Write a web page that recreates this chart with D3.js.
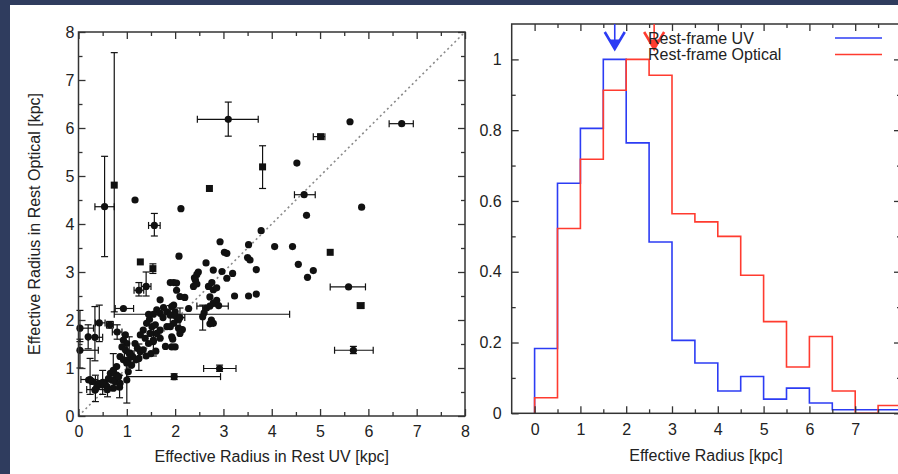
<!DOCTYPE html>
<html>
<head>
<meta charset="utf-8">
<script src="https://cdn.jsdelivr.net/npm/d3@7"></script>
<style>
  html, body { margin: 0; padding: 0; background: #2f3c5e; }
  svg { display: block; }
  text { font-family: "Liberation Sans", Arial, sans-serif; fill: #222; }
</style>
</head>
<body>
<script>
// ---- left panel: plain points (x = rest UV, y = rest optical), kpc
var dotX = [5.62, 4.52, 4.72, 5.86, 1.17, 2.12, 3.78, 2.93, 3.52, 4.06, 4.43, 3.07, 2.08, 3.50, 3.55, 2.64, 4.55, 3.68, 4.86, 4.74, 3.23, 3.52, 3.68,
  3.02, 2.79, 2.97, 3.07, 3.19, 2.40, 2.45, 2.48, 2.42, 2.38, 2.45, 1.90, 1.97, 2.03, 2.03, 2.10, 2.20, 2.28, 2.69, 2.76, 2.79, 2.86, 2.72, 2.79, 2.86,
  1.69, 1.76, 1.62, 1.69, 1.83, 1.97, 2.00, 2.03, 2.07, 1.97, 1.47, 1.41, 1.52, 1.59, 1.34, 1.48, 1.62, 1.69, 1.28, 1.38, 1.45, 1.55, 1.69, 1.83,
  1.93, 2.00, 1.90, 1.17, 1.22, 1.28, 1.34, 1.07, 1.12, 1.19, 1.03, 1.10, 0.97, 0.93, 1.00, 0.90, 0.97, 0.86, 0.93, 1.00, 1.03,
  0.66, 0.72, 0.79, 0.62, 0.69, 0.76, 0.83, 0.86, 0.55, 0.48, 0.41, 0.38, 0.59, 0.72, 0.34, 0.21, 0.28, 0.79,
  2.72, 2.75, 2.60, 2.65, 2.90, 1.55, 1.75, 2.15, 1.95, 1.80, 1.50, 1.40, 1.60, 1.97, 2.07, 2.10, 1.93, 2.79, 1.93];
var dotY = [6.13, 5.27, 4.18, 4.35, 4.50, 4.32, 3.86, 3.63, 3.57, 3.53, 3.53, 3.39, 3.33, 3.30, 3.25, 3.19, 3.16, 3.05, 3.03, 2.89, 2.50, 2.50, 2.54,
  3.41, 3.04, 3.01, 2.87, 2.97, 2.88, 2.95, 3.00, 2.83, 2.70, 2.75, 2.78, 2.78, 2.77, 2.62, 2.49, 2.47, 2.24, 2.70, 2.78, 2.63, 2.67, 2.48, 2.35, 2.41,
  2.42, 2.26, 2.21, 2.14, 2.17, 2.31, 2.17, 2.07, 2.00, 1.93, 2.01, 1.93, 1.86, 1.90, 1.79, 1.72, 1.72, 1.79, 1.69, 1.62, 1.51, 1.58, 1.62, 1.86,
  1.65, 1.44, 1.86, 1.51, 1.41, 1.34, 1.38, 1.31, 1.24, 1.17, 1.17, 1.06, 1.69, 1.58, 1.51, 1.44, 1.38, 1.24, 1.17, 1.10, 0.92,
  0.89, 0.92, 0.85, 0.78, 0.75, 0.72, 0.82, 0.68, 0.68, 0.65, 0.68, 0.61, 0.61, 0.58, 0.54, 0.75, 0.72, 1.03,
  1.92, 2.00, 2.15, 2.25, 2.30, 2.12, 2.05, 1.80, 1.60, 1.45, 1.30, 1.25, 1.35, 2.10, 1.83, 1.72, 1.44, 1.93, 2.28];

// plain square points
var sqX = [2.71, 5.21, 1.28];
var sqY = [4.74, 3.41, 3.21];

// points with error bars (null = no bar); marker: "o" circle, "s" square
var errX   = [3.10, 6.69, 5.01, 3.81, 4.67, 0.74, 0.54, 1.57, 1.54, 5.59, 5.84, 5.69, 2.92, 1.98, 1.45, 0.93, 2.57, 2.72, 0.03, 0.03, 0.43, 0.34, 0.65, 0.24, 0.35, 1.00,
  0.72, 0.50, 0.60, 0.85, 1.05, 1.25, 1.40, 1.25, 1.55, 1.90, 2.10, 0.80, 0.20];
var errY   = [6.18, 6.09, 5.82, 5.19, 4.61, 4.81, 4.36, 3.97, 3.07, 2.69, 2.30, 1.37, 0.99, 0.82, 2.12, 2.24, 2.07, 2.29, 1.83, 1.37, 1.94, 1.64, 1.90, 0.76, 0.55, 0.75,
  0.95, 0.70, 0.55, 0.60, 1.30, 1.20, 2.70, 2.62, 1.55, 2.10, 2.05, 1.75, 1.65];
var errXLo = [2.46, 6.43, 4.86, null, 4.47, null, 0.34, 1.45, null, 5.21, 5.77, 5.30, 2.59, 1.00, 0.74, 0.76, null, 2.45, 0.00, 0.00, 0.35, 0.20, 0.58, 0.05, 0.17, null,
  null, null, null, null, 0.95, null, 1.30, 1.15, null, null, 2.00, 0.70, null];
var errXHi = [3.72, 6.93, 5.10, null, 4.90, null, 0.74, 1.69, null, 5.94, 5.91, 6.10, 3.26, 2.94, 4.37, 1.14, null, 3.10, 0.31, 0.41, 0.55, 0.50, 0.72, 0.40, 0.55, null,
  null, null, null, null, 1.15, null, 1.50, 1.35, null, null, 2.20, 0.90, null];
var errYLo = [5.83, null, null, 4.74, null, 2.17, 3.32, 3.75, 2.97, null, null, 1.30, 0.93, 0.76, null, null, 1.79, null, 1.55, 1.00, 1.55, 1.15, 1.83, 0.45, 0.30, 0.27,
  0.55, 0.45, 0.40, 0.38, 1.00, 0.95, 2.50, 2.50, 1.25, 1.90, 1.85, 1.60, 1.40];
var errYHi = [6.54, null, null, 5.63, null, 7.57, 5.41, 4.22, 3.17, null, null, 1.45, 1.06, 0.88, null, null, 2.31, null, 2.20, 1.60, 2.31, 2.28, 1.97, 1.20, 0.85, 1.20,
  1.30, 0.95, 0.75, 0.85, 1.65, 1.50, 3.00, 2.78, 1.90, 2.30, 2.25, 1.90, 1.90];
var errShape = ["o", "o", "s", "s", "o", "s", "o", "o", "s", "o", "s", "o", "o", "o", "o", "o", "o", "o", "o", "o", "o", "o", "o", "o", "o", "o",
  "o", "o", "o", "o", "o", "o", "o", "o", "o", "o", "o", "o", "o"];

// ---- right panel: normalised histograms, bins of 0.5 kpc from 0 to 8
var binStart = [0, 0.5, 1, 1.5, 2, 2.5, 3, 3.5, 4, 4.5, 5, 5.5, 6, 6.5, 7, 7.5];
var uvHist  = [0.183, 0.650, 0.805, 1.0, 0.764, 0.484, 0.206, 0.142, 0.063, 0.104, 0.040, 0.071, 0.029, 0.010, 0.010, 0.010];
var optHist = [0.044, 0.522, 0.718, 0.913, 1.0, 0.955, 0.564, 0.541, 0.500, 0.390, 0.259, 0.131, 0.217, 0.063, 0.0, 0.022];
var medianX = [1.75, 2.61];        // arrows: UV, optical
var seriesNames = ["Rest-frame UV", "Rest-frame Optical"];
var seriesColors = ["#2c3cf4", "#ff3b2f"];

var W = 898, H = 474;
var svg = d3.select("body").append("svg").attr("width", W).attr("height", H);

svg.append("rect").attr("width", W).attr("height", H).attr("fill", "#2f3c5e");
svg.append("rect").attr("x", 10).attr("y", 5).attr("width", W - 10).attr("height", H - 5).attr("fill", "#fff");

var axisColor = "#333";

// helper: inward ticks on all four sides
function frameTicks(g, x, y, xMaj, xMin, yMaj, yMin, fmtX, fmtY, padX, padY) {
    var x0 = x.range()[0], x1 = x.range()[1], y0 = y.range()[0], y1 = y.range()[1];
    g.append("g").attr("transform", "translate(0," + y0 + ")")
        .call(d3.axisBottom(x).tickValues(xMaj).tickSize(-7).tickPadding(padX).tickFormat(fmtX));
    g.append("g").attr("transform", "translate(0," + y0 + ")")
        .call(d3.axisBottom(x).tickValues(xMin).tickSize(-4).tickFormat(""));
    g.append("g").attr("transform", "translate(0," + y1 + ")")
        .call(d3.axisTop(x).tickValues(xMaj).tickSize(-7).tickFormat(""));
    g.append("g").attr("transform", "translate(0," + y1 + ")")
        .call(d3.axisTop(x).tickValues(xMin).tickSize(-4).tickFormat(""));
    g.append("g").attr("transform", "translate(" + x0 + ",0)")
        .call(d3.axisLeft(y).tickValues(yMaj).tickSize(-7).tickPadding(padY).tickFormat(fmtY));
    g.append("g").attr("transform", "translate(" + x0 + ",0)")
        .call(d3.axisLeft(y).tickValues(yMin).tickSize(-4).tickFormat(""));
    g.append("g").attr("transform", "translate(" + x1 + ",0)")
        .call(d3.axisRight(y).tickValues(yMaj).tickSize(-7).tickFormat(""));
    g.append("g").attr("transform", "translate(" + x1 + ",0)")
        .call(d3.axisRight(y).tickValues(yMin).tickSize(-4).tickFormat(""));
    g.selectAll(".domain").remove();
    g.selectAll(".tick line").attr("stroke", axisColor).attr("stroke-width", 1.3);
    g.selectAll(".tick text").attr("font-size", 16).attr("fill", "#222")
        .attr("font-family", "Liberation Sans, Arial, sans-serif");
    g.append("rect").attr("x", x0).attr("y", y1).attr("width", x1 - x0).attr("height", y0 - y1)
        .attr("fill", "none").attr("stroke", axisColor).attr("stroke-width", 1.5);
}

// ================= left panel =================
var xL = d3.scaleLinear().domain([0, 8]).range([78.5, 465]);
var yL = d3.scaleLinear().domain([0, 8]).range([416, 32]);
var gL = svg.append("g");

// 1:1 line
gL.append("line")
    .attr("x1", xL(0)).attr("y1", yL(0)).attr("x2", xL(8)).attr("y2", yL(8))
    .attr("stroke", "#8a8a8a").attr("stroke-width", 1.6).attr("stroke-dasharray", "2,3");

var errIdx = d3.range(errX.length);
var cap = 3.5;
var eb = gL.append("g").attr("stroke", "#111").attr("stroke-width", 1.2);
errIdx.forEach(function (i) {
    if (errXLo[i] !== null) {
        eb.append("line").attr("x1", xL(errXLo[i])).attr("x2", xL(errXHi[i]))
            .attr("y1", yL(errY[i])).attr("y2", yL(errY[i]));
        [errXLo[i], errXHi[i]].forEach(function (v) {
            eb.append("line").attr("x1", xL(v)).attr("x2", xL(v))
                .attr("y1", yL(errY[i]) - cap).attr("y2", yL(errY[i]) + cap);
        });
    }
    if (errYLo[i] !== null) {
        eb.append("line").attr("x1", xL(errX[i])).attr("x2", xL(errX[i]))
            .attr("y1", yL(errYLo[i])).attr("y2", yL(errYHi[i]));
        [errYLo[i], errYHi[i]].forEach(function (v) {
            eb.append("line").attr("y1", yL(v)).attr("y2", yL(v))
                .attr("x1", xL(errX[i]) - cap).attr("x2", xL(errX[i]) + cap);
        });
    }
});

gL.selectAll(".dot").data(d3.range(dotX.length)).enter().append("circle")
    .attr("cx", function (i) { return xL(dotX[i]); })
    .attr("cy", function (i) { return yL(dotY[i]); })
    .attr("r", 3.6).attr("fill", "#111");

gL.selectAll(".sq").data(d3.range(sqX.length)).enter().append("rect")
    .attr("x", function (i) { return xL(sqX[i]) - 3.5; })
    .attr("y", function (i) { return yL(sqY[i]) - 3.5; })
    .attr("width", 7).attr("height", 7).attr("fill", "#111");

errIdx.forEach(function (i) {
    if (errShape[i] === "s") {
        gL.append("rect").attr("x", xL(errX[i]) - 3.5).attr("y", yL(errY[i]) - 3.5)
            .attr("width", 7).attr("height", 7).attr("fill", "#111");
    } else {
        gL.append("circle").attr("cx", xL(errX[i])).attr("cy", yL(errY[i]))
            .attr("r", 3.6).attr("fill", "#111");
    }
});

frameTicks(gL, xL, yL, d3.range(0, 9), d3.range(0.5, 8, 1), d3.range(0, 9), d3.range(0.5, 8, 1),
    d3.format("d"), d3.format("d"), 10, 4);

gL.append("text").attr("x", (xL(0) + xL(8)) / 2).attr("y", 462).attr("text-anchor", "middle")
    .attr("font-size", 16).text("Effective Radius in Rest UV [kpc]");
gL.append("text").attr("transform", "translate(40," + (yL(4)) + ") rotate(-90)")
    .attr("text-anchor", "middle").attr("font-size", 16).text("Effective Radius in Rest Optical [kpc]");

// ================= right panel =================
var xR = d3.scaleLinear().domain([-0.5, 8]).range([511.7, 901]);
var yR = d3.scaleLinear().domain([0, 1.1]).range([413.3, 24]);
var gR = svg.append("g");

var step = d3.line().x(function (d) { return xR(d[0]); }).y(function (d) { return yR(d[1]); })
    .curve(d3.curveStepAfter);

[uvHist, optHist].forEach(function (h, k) {
    var pts = [[0, 0]];
    binStart.forEach(function (b, i) { pts.push([b, h[i]]); });
    pts.push([8, h[h.length - 1]]);
    gR.append("path").attr("d", step(pts)).attr("fill", "none")
        .attr("stroke", seriesColors[k]).attr("stroke-width", 1.6);
});

function ylab(d) { return d === 0 ? "0" : d === 1 ? "1" : d.toFixed(1); }
// the "8" label of the right panel falls outside the window, so it is left blank
function xlabR(d) { return d < 8 ? String(d) : ""; }
frameTicks(gR, xR, yR, d3.range(0, 9), d3.range(0.5, 8, 1),
    [0, 0.2, 0.4, 0.6, 0.8, 1.0], [0.1, 0.3, 0.5, 0.7, 0.9],
    xlabR, ylab, 10, 10);

// median arrows
medianX.forEach(function (m, k) {
    var cx = xR(m), top = yR(1.1), tip = 49;
    var a = gR.append("g").attr("stroke", seriesColors[k]).attr("fill", seriesColors[k]);
    a.append("line").attr("x1", cx).attr("x2", cx).attr("y1", top).attr("y2", tip)
        .attr("stroke-width", 1.6);
    a.append("path").attr("d", "M" + (cx - 10) + "," + (tip - 17) + "L" + cx + "," + tip + "L" + (cx + 10) + "," + (tip - 17))
        .attr("fill", "none").attr("stroke-width", 2.6);
    a.append("path").attr("d", "M" + (cx - 5) + "," + (tip - 9) + "L" + cx + "," + tip + "L" + (cx + 5) + "," + (tip - 9) + "Z")
        .attr("stroke-width", 1);
});

// legend
seriesNames.forEach(function (s, k) {
    var ly = 38 + k * 16.5;
    gR.append("text").attr("x", 648).attr("y", ly + 5.8).attr("font-size", 16).text(s);
    gR.append("line").attr("x1", 835).attr("x2", 882).attr("y1", ly).attr("y2", ly)
        .attr("stroke", seriesColors[k]).attr("stroke-width", 1.6);
});

gR.append("text").attr("x", 706).attr("y", 461).attr("text-anchor", "middle")
    .attr("font-size", 16).text("Effective Radius [kpc]");
</script>
</body>
</html>
